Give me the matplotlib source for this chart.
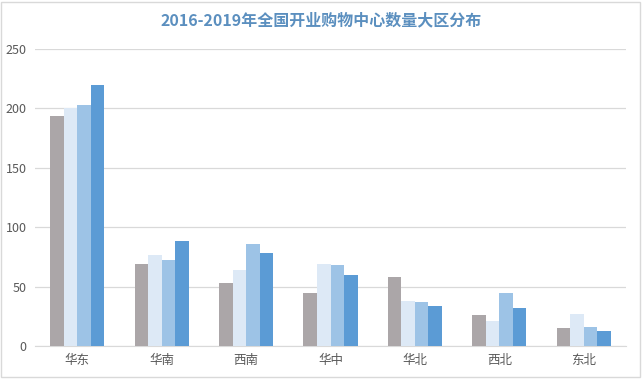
import numpy as np
import matplotlib.pyplot as plt
from matplotlib.patches import Rectangle

plt.rcParams['font.family'] = ['Noto Sans CJK SC', 'DejaVu Sans']

regions = ['华东', '华南', '西南', '华中', '华北', '西北', '东北']
years = ['2016', '2017', '2018', '2019']
v2016 = [194, 69, 53, 45, 58, 26, 15]
v2017 = [200, 77, 64, 69, 38, 21, 27]
v2018 = [203, 72, 86, 68, 37, 45, 16]
v2019 = [220, 88, 78, 60, 34, 32, 13]
series = [v2016, v2017, v2018, v2019]
colors = ["#aba6a8", "#dde9f6", "#9dc3e6", "#5b9bd5"]

fig = plt.figure(figsize=(6.42, 3.79), dpi=100)
ax = fig.add_axes([35/642, 1 - 346/379, 591/642, 297/379])

X = np.arange(len(regions))
w = 0.16
for i, vals in enumerate(series):
    ax.bar(X + (i - 1.5) * w, vals, width=w, color=colors[i], label=years[i], zorder=3)

ax.set_xlim(-0.5, len(regions) - 0.5)
ax.set_ylim(0, 250)
ax.set_yticks(range(0, 251, 50))
ax.set_xticks(X)
ax.set_xticklabels(regions)
ax.grid(axis='y', color='#d9d9d9', linewidth=0.9, zorder=0)
for s in ['top', 'right', 'left']:
    ax.spines[s].set_visible(False)
ax.spines['bottom'].set_color('#d9d9d9')
ax.tick_params(axis='both', length=0, colors='#595959', labelsize=9)
ax.tick_params(axis='x', pad=6)
ax.tick_params(axis='y', pad=6)

fig.text(0.5, 1 - 20/379, '2016-2019年全国开业购物中心数量大区分布', ha='center', va='center',
         fontsize=11.5, fontweight='bold', color='#5b8fbf')

fig.patches.append(Rectangle((0.002, 0.004), 0.995, 0.992, transform=fig.transFigure,
                             fill=False, edgecolor='#d9d9d9', linewidth=1))

plt.savefig('out.png', dpi=100)
